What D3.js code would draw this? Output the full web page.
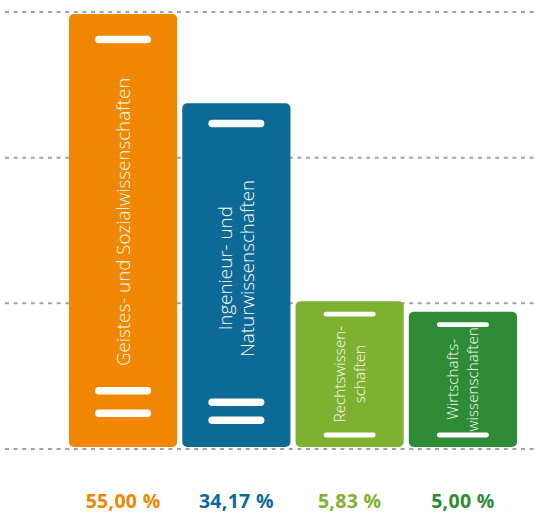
<!DOCTYPE html>
<html><head><meta charset="utf-8">
<script src="https://cdn.jsdelivr.net/npm/d3@7"></script>
<style>html,body{margin:0;padding:0;background:#fff;}svg{display:block;}</style>
</head><body>
<svg id="chart" width="535" height="513"></svg>
<script>
const categories = ["Geistes- und Sozialwissenschaften", "Ingenieur- und Naturwissenschaften", "Rechtswissenschaften", "Wirtschaftswissenschaften"];
const labelLines = [["Geistes- und Sozialwissenschaften"], ["Ingenieur- und", "Naturwissenschaften"], ["Rechtswissen-", "schaften"], ["Wirtschafts-", "wissenschaften"]];
const values = [55.00, 34.17, 5.83, 5.00];
const colors = ["#f18700", "#0d6a97", "#7fb130", "#2d8b35"];
const gridSteps = [0, 1, 2, 3];

(function () {
const svg = d3.select("#chart");
const yBottom = 447, yTop = 14;
const x = d3.scaleBand().domain(categories).range([69, 517]).paddingInner(0.045).paddingOuter(0);
const y = d3.scalePow().exponent(0.485).domain([0, 55]).range([yBottom, yTop]);
const yGrid = d3.scaleLinear().domain([0, 3]).range([449, 12]);
const fmt = d3.formatLocale({decimal: ",", thousands: ".", grouping: [3], currency: ["", " €"]}).format(".2f");

// gridlines
svg.append("g").selectAll("line").data(gridSteps).join("line")
  .attr("x1", 5).attr("x2", 535)
  .attr("y1", d => yGrid(d)).attr("y2", d => yGrid(d))
  .attr("stroke", "#a3a3a3").attr("stroke-width", 2).attr("stroke-dasharray", "4,4.6");

const bw = x.bandwidth();
const g = svg.append("g").selectAll("g").data(categories).join("g");

g.append("rect")
  .attr("x", d => x(d)).attr("width", bw)
  .attr("y", (d, i) => y(values[i])).attr("height", (d, i) => yBottom - y(values[i]))
  .attr("rx", 5).attr("fill", (d, i) => colors[i]);

// book decorations and labels
g.each(function (d, i) {
  const sel = d3.select(this);
  const t = y(values[i]), h = yBottom - t, cx = x(d) + bw / 2;
  const big = h > 200;
  let lines, w, th;
  if (big) {
    lines = [t + 0.059 * h, yBottom - 0.130 * h, yBottom - 0.078 * h];
    w = 56; th = 7.6;
  } else {
    lines = [t + 13, yBottom - 12];
    w = 52; th = 4.8;
  }
  sel.selectAll("rect.deco").data(lines).join("rect").attr("class", "deco")
    .attr("x", cx - w / 2).attr("width", w)
    .attr("y", v => v - th / 2).attr("height", th).attr("rx", th / 2)
    .attr("fill", "#fff");

  const fs = big ? 18.8 : 15.2;
  const lh = big ? 21.5 : 20;
  const cy = big ? (t + yBottom) / 2 - 0.02 * h : (t + yBottom) / 2;
  const L = labelLines[i];
  const txt = sel.append("text")
    .attr("transform", `translate(${cx},${cy}) rotate(-90)`)
    .attr("text-anchor", "middle")
    .attr("fill", "#fff")
    .attr("font-family", "'Open Sans', 'Noto Sans', sans-serif")
    .attr("font-weight", 300)
    .attr("font-size", fs);
  L.forEach((s, k) => {
    const off = (k - (L.length - 1) / 2) * lh;
    txt.append("tspan").attr("x", 0).attr("y", off).attr("dy", "0.36em").text(s);
  });
});

// value labels
svg.append("g").selectAll("text").data(categories).join("text")
  .attr("x", d => x(d) + bw / 2).attr("y", 507.5)
  .attr("text-anchor", "middle")
  .attr("fill", (d, i) => colors[i])
  .attr("font-family", "'Open Sans', 'Noto Sans', sans-serif")
  .attr("font-weight", 700).attr("font-size", 19.5)
  .attr("letter-spacing", 0.3)
  .text((d, i) => fmt(values[i]) + " %");
})();
</script>
</body></html>
